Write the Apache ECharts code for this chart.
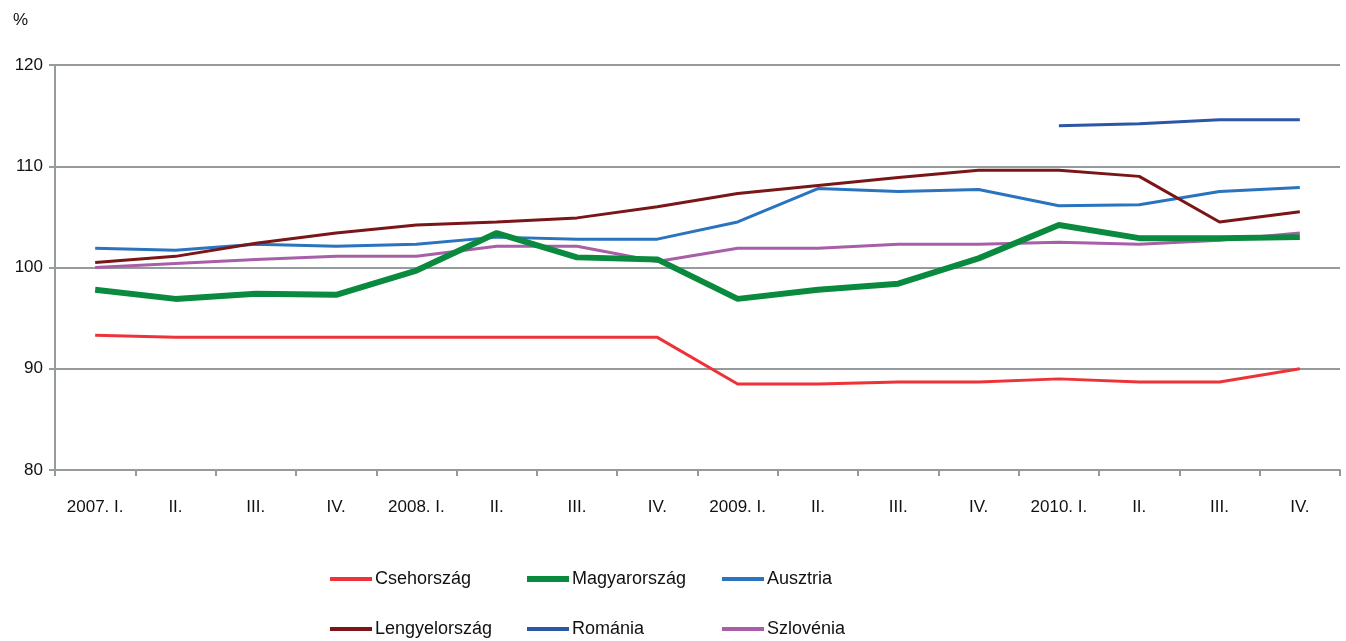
<!DOCTYPE html>
<html>
<head>
<meta charset="utf-8">
<script src="https://cdn.jsdelivr.net/npm/echarts@6/dist/echarts.min.js"></script>
<style>
  html, body { margin: 0; padding: 0; background: #fff; }
  #chart { width: 1346px; height: 641px; }
</style>
</head>
<body>
<div id="chart"></div>
<script>
const categories = ['2007. I.', 'II.', 'III.', 'IV.', '2008. I.', 'II.', 'III.', 'IV.',
  '2009. I.', 'II.', 'III.', 'IV.', '2010. I.', 'II.', 'III.', 'IV.'];
const csehorszag = [93.3, 93.1, 93.1, 93.1, 93.1, 93.1, 93.1, 93.1, 88.5, 88.5, 88.7, 88.7, 89.0, 88.7, 88.7, 90.0];
const magyarorszag = [97.8, 96.9, 97.4, 97.3, 99.7, 103.4, 101.0, 100.8, 96.9, 97.8, 98.4, 100.9, 104.2, 102.9, 102.9, 103.0];
const ausztria = [101.9, 101.7, 102.3, 102.1, 102.3, 103.0, 102.8, 102.8, 104.5, 107.8, 107.5, 107.7, 106.1, 106.2, 107.5, 107.9];
const lengyelorszag = [100.5, 101.1, 102.4, 103.4, 104.2, 104.5, 104.9, 106.0, 107.3, 108.1, 108.9, 109.6, 109.6, 109.0, 104.5, 105.5];
const romania = [null, null, null, null, null, null, null, null, null, null, null, null, 114.0, 114.2, 114.6, 114.6];
const szlovenia = [100.0, 100.4, 100.8, 101.1, 101.1, 102.1, 102.1, 100.6, 101.9, 101.9, 102.3, 102.3, 102.5, 102.3, 102.7, 103.4];

const font = '"Liberation Sans Narrow", "Arial Narrow", "Liberation Sans", Arial, sans-serif';
const gridGray = '#959a9c';

const chart = echarts.init(document.getElementById('chart'));

function line(name, data, color, width) {
  return {
    name: name,
    type: 'line',
    data: data,
    symbol: 'none',
    connectNulls: false,
    lineStyle: { color: color, width: width },
    itemStyle: { color: color },
    z: width > 4 ? 3 : 2
  };
}

// one legend per entry so the 3x2 layout lines up like the original
function legend(left, top, name, h) {
  return {
    left: left,
    top: top,
    padding: 0,
    itemWidth: 42,
    itemHeight: h || 4,
    icon: 'rect',
    selectedMode: false,
    textStyle: { fontFamily: font, fontSize: 18, color: '#111', padding: [0, 0, 0, -2] },
    data: [name]
  };
}

chart.setOption({
  animation: false,
  textStyle: { fontFamily: font },
  grid: { left: 55, right: 6, top: 65, bottom: 171 },
  graphic: [{
    type: 'text',
    left: 13,
    top: 12,
    style: { text: '%', font: '17px ' + font, fill: '#111' }
  }],
  legend: [
    legend(330, 570, 'Csehország'),
    legend(527, 570, 'Magyarország', 6),
    legend(722, 570, 'Ausztria'),
    legend(330, 620, 'Lengyelország'),
    legend(527, 620, 'Románia'),
    legend(722, 620, 'Szlovénia')
  ],
  xAxis: {
    type: 'category',
    data: categories,
    boundaryGap: true,
    axisLine: { lineStyle: { color: gridGray, width: 2 } },
    axisTick: { show: true, length: 6, lineStyle: { color: gridGray, width: 2 } },
    axisLabel: { color: '#111', fontSize: 17, fontFamily: font, margin: 29, interval: 0 }
  },
  yAxis: {
    type: 'value',
    min: 80,
    max: 120,
    interval: 10,
    axisLine: { show: true, lineStyle: { color: gridGray, width: 2 } },
    axisTick: { show: true, length: 6, lineStyle: { color: gridGray, width: 2 } },
    axisLabel: { color: '#111', fontSize: 17, fontFamily: font, margin: 12 },
    splitLine: { show: true, lineStyle: { color: gridGray, width: 2 } }
  },
  series: [
    line('Csehország', csehorszag, '#ee3338', 3),
    line('Magyarország', magyarorszag, '#0a8a3e', 6),
    line('Ausztria', ausztria, '#2a73be', 3),
    line('Lengyelország', lengyelorszag, '#7a1518', 3),
    line('Románia', romania, '#2e56a6', 3),
    line('Szlovénia', szlovenia, '#a85fa8', 3)
  ]
});
</script>
</body>
</html>
